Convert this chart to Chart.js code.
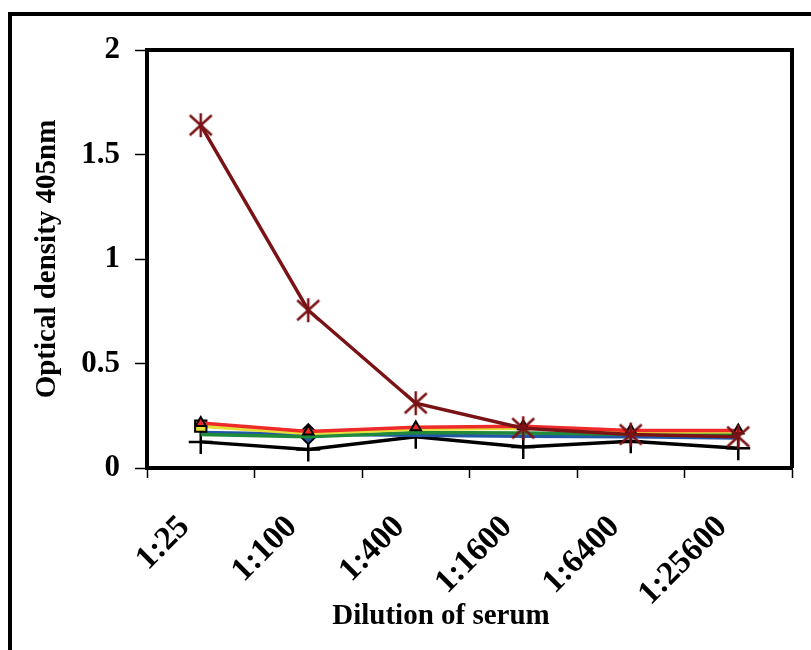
<!DOCTYPE html>
<html>
<head>
<meta charset="utf-8">
<script src="https://cdn.jsdelivr.net/npm/chart.js@4"></script>
<style>
  html, body { margin: 0; padding: 0; background: #fff; overflow: hidden; }
  #wrap { position: relative; width: 811px; height: 650px; }
  #frame { position: absolute; left: 8px; top: 12px; width: 900px; height: 800px; border: 4px solid #000; box-sizing: border-box; }
  canvas { position: absolute; left: 0; top: 0; }
</style>
</head>
<body>
<div id="wrap">
  <div id="frame"></div>
  <canvas id="chart" width="811" height="650"></canvas>
</div>
<script>
// dilution categories
const dilutions = ['1:25', '1:100', '1:400', '1:1600', '1:6400', '1:25600'];

// optical density readings per serum
const serumMaroon = [1.64, 0.755, 0.31, 0.19, 0.16, 0.15];
const serumRed    = [0.215, 0.175, 0.195, 0.2, 0.18, 0.18];
const serumYellow = [0.2, 0.165, 0.185, 0.19, 0.172, 0.174];
const serumGreen  = [0.16, 0.15, 0.17, 0.168, 0.162, 0.166];
const serumBlue   = [0.17, 0.162, 0.157, 0.152, 0.15, 0.143];
const serumBlack  = [0.125, 0.088, 0.15, 0.1, 0.128, 0.094];

const yTicks = [0, 0.5, 1, 1.5, 2];

const xTitle = 'Dilution of serum';
const yTitle = 'Optical density 405nm';

const serif = "'Liberation Serif', 'Times New Roman', serif";

// asterisk marker (vertical bar + X), like the spreadsheet one
function makeAsterisk(color) {
  const c = document.createElement('canvas');
  c.width = 26; c.height = 26;
  const g = c.getContext('2d');
  g.strokeStyle = color;
  g.lineWidth = 2.5;
  g.beginPath();
  g.moveTo(13, 1); g.lineTo(13, 25);
  g.moveTo(2, 3); g.lineTo(24, 23);
  g.moveTo(24, 3); g.lineTo(2, 23);
  g.stroke();
  return c;
}

const maroon = '#7a1316';

// box around the plot and the hand-placed x title
const plotFrame = {
  id: 'plotFrame',
  afterDraw(chart) {
    const { ctx, chartArea: a } = chart;
    ctx.save();
    ctx.strokeStyle = '#000';
    ctx.lineWidth = 4;
    ctx.beginPath();
    ctx.moveTo(a.left, a.top);
    ctx.lineTo(a.right, a.top);
    ctx.lineTo(a.right, a.bottom);
    ctx.stroke();
    ctx.fillStyle = '#000';
    ctx.font = 'bold 29px ' + serif;
    ctx.textAlign = 'center';
    ctx.textBaseline = 'middle';
    ctx.fillText(xTitle, 441, 617);
    ctx.restore();
  }
};

new Chart(document.getElementById('chart'), {
  type: 'line',
  data: {
    labels: dilutions,
    datasets: [
      {
        label: 'Serum 1',
        data: serumMaroon,
        borderColor: maroon,
        borderWidth: 3.5,
        pointStyle: makeAsterisk(maroon),
        pointRadius: 12
      },
      {
        label: 'Serum 2',
        data: serumRed,
        borderColor: '#ee2a2a',
        borderWidth: 3.5,
        pointStyle: 'triangle',
        pointRadius: 6,
        pointBackgroundColor: '#ee2a2a',
        pointBorderColor: '#000',
        pointBorderWidth: 2
      },
      {
        label: 'Serum 3',
        data: serumYellow,
        borderColor: '#e4e03a',
        borderWidth: 3.5,
        pointStyle: 'rect',
        pointRadius: ctx => ctx.dataIndex === 0 ? 8 : 0,
        pointBackgroundColor: '#e4e03a',
        pointBorderColor: '#000',
        pointBorderWidth: 2
      },
      {
        label: 'Serum 4',
        data: serumGreen,
        borderColor: '#1f8a3b',
        borderWidth: 3.5,
        pointRadius: 0
      },
      {
        label: 'Serum 5',
        data: serumBlue,
        borderColor: '#2257a6',
        borderWidth: 3.5,
        pointStyle: 'rectRot',
        pointRadius: ctx => ctx.dataIndex === 1 ? 10 : 0,
        pointBackgroundColor: '#2257a6',
        pointBorderColor: '#000',
        pointBorderWidth: 2
      },
      {
        label: 'Serum 6',
        data: serumBlack,
        borderColor: '#000',
        borderWidth: 3.5,
        pointStyle: 'cross',
        pointRadius: 12,
        pointBorderColor: '#000',
        pointBorderWidth: 2.5
      }
    ]
  },
  options: {
    responsive: false,
    animation: false,
    events: [],
    layout: { padding: { top: 50, right: 19, left: 0, bottom: 0 } },
    elements: { line: { tension: 0 } },
    plugins: {
      legend: { display: false },
      tooltip: { enabled: false }
    },
    scales: {
      x: {
        offset: true,
        afterFit(scale) { scale.height = 182; },
        grid: {
          offset: true,
          drawOnChartArea: false,
          drawTicks: true,
          tickLength: 10,
          tickWidth: 1.5,
          tickColor: '#000'
        },
        border: { color: '#000', width: 4 },
        ticks: {
          color: '#000',
          minRotation: 45,
          maxRotation: 45,
          padding: 30,
          labelOffset: -16,
          font: { family: serif, size: 33, weight: 'bold' }
        }
      },
      y: {
        min: 0,
        max: 2,
        afterFit(scale) { scale.width = 147; },
        afterBuildTicks(scale) { scale.ticks = yTicks.map(v => ({ value: v })); },
        grid: {
          drawOnChartArea: false,
          drawTicks: true,
          tickLength: 12,
          tickWidth: 1.5,
          tickColor: '#000'
        },
        border: { color: '#000', width: 4 },
        ticks: {
          color: '#000',
          padding: 15,
          callback: v => String(v),
          font: { family: serif, size: 31, weight: 'bold' }
        },
        title: {
          display: true,
          text: yTitle,
          color: '#000',
          padding: 30,
          font: { family: serif, size: 29, weight: 'bold' }
        }
      }
    }
  },
  plugins: [plotFrame]
});
</script>
</body>
</html>
